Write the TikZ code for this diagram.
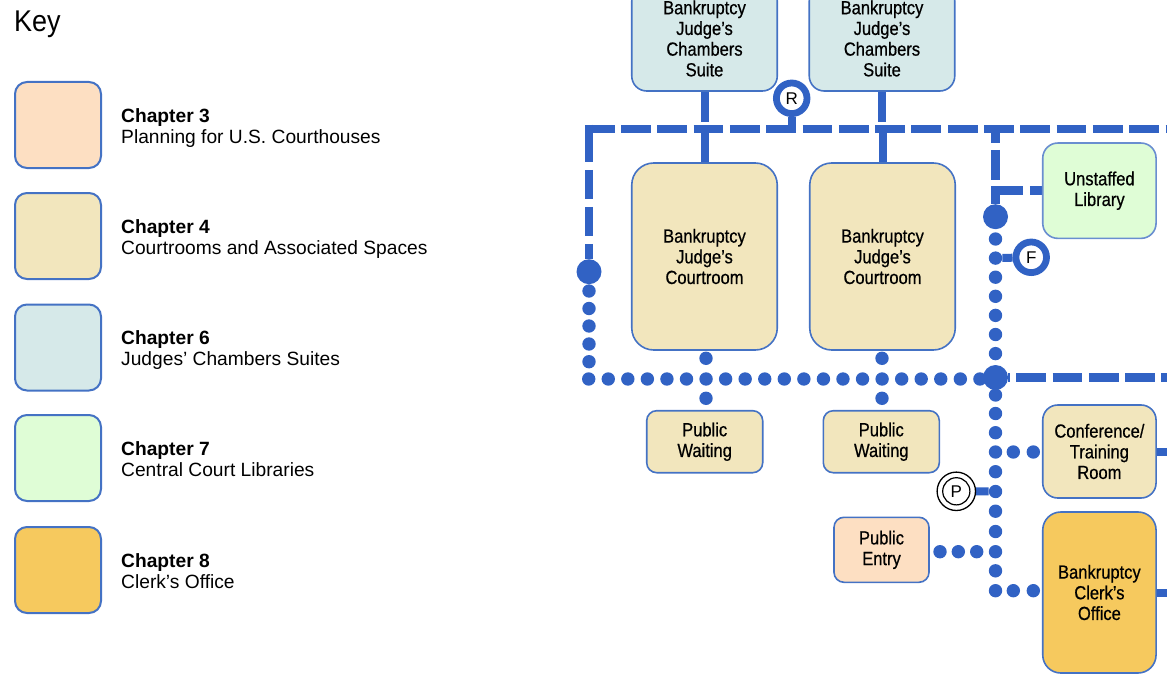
\documentclass[tikz,border=0pt]{standalone}
\usepackage{fontspec}
\setmainfont{Liberation Sans}
\newfontfamily\keyfont[FakeStretch=0.9]{Liberation Sans}
\newfontfamily\roomfont[FakeStretch=0.87, FakeBold=0.6]{Liberation Sans}
\usetikzlibrary{backgrounds}

\definecolor{lineblue}{HTML}{3162C4}
\definecolor{edgeblue}{HTML}{4472C4}
\definecolor{chamberfill}{HTML}{D6E9E9}
\definecolor{courtfill}{HTML}{F2E6BD}
\definecolor{entryfill}{HTML}{FDDFC2}
\definecolor{libfill}{HTML}{DFFDD6}
\definecolor{clerkfill}{HTML}{F6C95E}

\newcommand\lblfont{\roomfont\fontsize{19}{20.7}\selectfont}
\newcommand\chapfont{\fontsize{19.2}{21}\selectfont}

\begin{document}
\begin{tikzpicture}[x=1pt,y=-1pt,
  room/.style={draw=edgeblue, line width=1.6pt, align=center, inner sep=0pt,
    font=\lblfont, text=black},
  keybox/.style={draw=edgeblue, line width=2pt, rounded corners=12pt,
    minimum width=86pt, minimum height=86pt, inner sep=0pt},
  keyhead/.style={anchor=base west, inner sep=0pt, font=\chapfont\bfseries},
  keysub/.style={anchor=base west, inner sep=0pt, font=\chapfont},
  pdot/.style={circle, fill=lineblue, inner sep=0pt, minimum size=13.4pt},
  bigdot/.style={circle, fill=lineblue, inner sep=0pt, minimum size=25pt},
  ring/.style={circle, draw=lineblue, line width=6.8pt, fill=white,
    minimum size=30.6pt, inner sep=0pt, font=\fontsize{17}{17}\selectfont},
  corr/.style={draw=lineblue, line width=8.5pt, dash pattern=on 29.8pt off 6.5pt},
  stub/.style={draw=lineblue, line width=8pt}]

\useasboundingbox (0,0) rectangle (1167,674);

% ---------- key ----------
\node[anchor=base west, inner sep=0pt, font=\keyfont\fontsize{30}{30}\selectfont] (keytitle) at (14,31.7) {Key};

\node[keybox, fill=entryfill]   (k3) at (58,125)   {};
\node[keybox, fill=courtfill]   (k4) at (58,236)   {};
\node[keybox, fill=chamberfill] (k6) at (58,347.5) {};
\node[keybox, fill=libfill]     (k7) at (58,458)   {};
\node[keybox, fill=clerkfill]   (k8) at (58,570)   {};

\node[keyhead] (k3h) at (121,122.2) {Chapter 3};
\node[keysub]  (k3s) at (121,143.0) {Planning for U.S. Courthouses};
\node[keyhead] (k4h) at (121,233.2) {Chapter 4};
\node[keysub]  (k4s) at (121,254.0) {Courtrooms and Associated Spaces};
\node[keyhead] (k6h) at (121,344.7) {Chapter 6};
\node[keysub]  (k6s) at (121,365.5) {Judges’ Chambers Suites};
\node[keyhead] (k7h) at (121,455.2) {Chapter 7};
\node[keysub]  (k7s) at (121,476.0) {Central Court Libraries};
\node[keyhead] (k8h) at (121,567.2) {Chapter 8};
\node[keysub]  (k8s) at (121,588.0) {Clerk’s Office};

% ---------- rooms ----------
\node[room, fill=chamberfill, rounded corners=15pt, minimum width=145.5pt, minimum height=105pt]
  (ch1) at (704.5,38.5) {Bankruptcy\\Judge’s\\Chambers\\Suite};
\node[room, fill=chamberfill, rounded corners=15pt, minimum width=145.5pt, minimum height=105pt]
  (ch2) at (882,38.5) {Bankruptcy\\Judge’s\\Chambers\\Suite};

\node[room, fill=courtfill, rounded corners=22pt, minimum width=145.5pt, minimum height=187pt]
  (ct1) at (704.5,256.5) {Bankruptcy\\Judge’s\\Courtroom};
\node[room, fill=courtfill, rounded corners=22pt, minimum width=145.5pt, minimum height=187pt]
  (ct2) at (882.5,256.5) {Bankruptcy\\Judge’s\\Courtroom};

\node[room, fill=courtfill, rounded corners=10pt, minimum width=116pt, minimum height=62pt]
  (pw1) at (704.7,441.7) {Public\\Waiting};
\node[room, fill=courtfill, rounded corners=10pt, minimum width=116pt, minimum height=62pt]
  (pw2) at (881.3,441.7) {Public\\Waiting};

\node[room, fill=entryfill, rounded corners=10pt, minimum width=95pt, minimum height=65pt]
  (entry) at (881.5,549.8) {Public\\Entry};

\node[room, fill=libfill, draw=edgeblue!80, rounded corners=15pt, minimum width=113.3pt, minimum height=95.3pt]
  (lib) at (1099.4,190.7) {Unstaffed\\Library};
\node[room, fill=courtfill, rounded corners=15pt, minimum width=113.3pt, minimum height=93pt]
  (conf) at (1099.4,451.5) {Conference/\\Training\\Room};
\node[room, fill=clerkfill, rounded corners=18pt, minimum width=113.3pt, minimum height=161pt]
  (clerk) at (1099.4,592.5) {Bankruptcy\\Clerk’s\\Office};

% ---------- junction dots ----------
\node[bigdot] (jl) at (589,271.7) {};
\node[bigdot] (ja) at (995.5,216.7) {};
\node[bigdot] (jb) at (995.5,377.5) {};

% left column of dots
\foreach \yy [count=\i] in {291,308.5,326,344,361.7}
  \node[pdot] (lc\i) at (589,\yy) {};
% horizontal row of dots
\foreach \k in {0,...,20}
  \node[pdot] (row\k) at ({588.7+19.56*\k},379) {};
% courtroom to waiting dots
\node[pdot] (c1a) at (706,358.3) {};
\node[pdot] (c1b) at (706,398.3) {};
\node[pdot] (c2a) at (882,358.3) {};
\node[pdot] (c2b) at (882,398.3) {};
% right column, upper part
\foreach \k in {0,...,6}
  \node[pdot] (ru\k) at (995.5,{239+19.1*\k}) {};
% right column, lower part
\foreach \yy [count=\i] in {395,413.5,432.7,452,471.7,491.5,511.2,531.5,551.7,570.8,590.7}
  \node[pdot] (rl\i) at (995.5,\yy) {};
% branches to conference room, public entry and clerk's office
\node[pdot] (cf1) at (1013.3,452) {};
\node[pdot] (cf2) at (1033.3,452) {};
\node[pdot] (pe1) at (940,551.7) {};
\node[pdot] (pe2) at (958.3,551.7) {};
\node[pdot] (pe3) at (976.7,551.7) {};
\node[pdot] (cl1) at (1013.3,590.7) {};
\node[pdot] (cl2) at (1033.3,590.7) {};

% ---------- symbols ----------
\node[ring] (R) at (791.7,98.3) {R};
\node[ring] (F) at (1031.2,257.3) {F};
\node[circle, draw=black, line width=1.3pt, fill=white, minimum size=38.4pt, inner sep=0pt,
  font=\fontsize{17}{17}\selectfont] (P) at (956.3,491.3) {P};
\draw[black, line width=1.2pt] (P.center) circle[radius=13.6];

% ---------- corridors ----------
\coordinate (cornerTL) at (584.75,129);
\coordinate (cornerL)  at (589,124.75);
\coordinate (edgeT)    at (1167,129);
\coordinate (topR)     at (995.5,129);
\coordinate (edgeM)    at (1167,377.5);

\begin{scope}[on background layer]
  % secure corridor along the top
  \draw[corr] (cornerTL) -- (edgeT);
  \draw[corr, dash pattern=on 37pt off 8pt on 29pt off 8pt on 29pt off 8pt on 60pt]
    (cornerL) -- (jl);
  \draw[corr, dash phase=15.3pt] (topR) -- (ja);
  \draw[corr, dash phase=2pt] (ja |- lib.west) -- (lib.west);
  \draw[corr, dash phase=28.3pt] (jb) -- (edgeM);
  % chambers to courtrooms
  \draw[stub] (ch1.south) -- ++(0,30);
  \draw[stub] (ct1.north) -- ++(0,-30);
  \draw[stub] (ch2.south) -- ++(0,30);
  \draw[stub] (ct2.north) -- ++(0,-30);
  % symbol stubs
  \draw[stub] (R.south) -- ++(0,12);
  \draw[stub] (ru1) -- (F);
  \draw[stub] (P) -- (rl6);
  % exits on the right edge
  \draw[stub] (conf.east) -- ++(11,0);
  \draw[stub] (clerk.east) -- ++(11,0);
\end{scope}

\end{tikzpicture}
\end{document}
